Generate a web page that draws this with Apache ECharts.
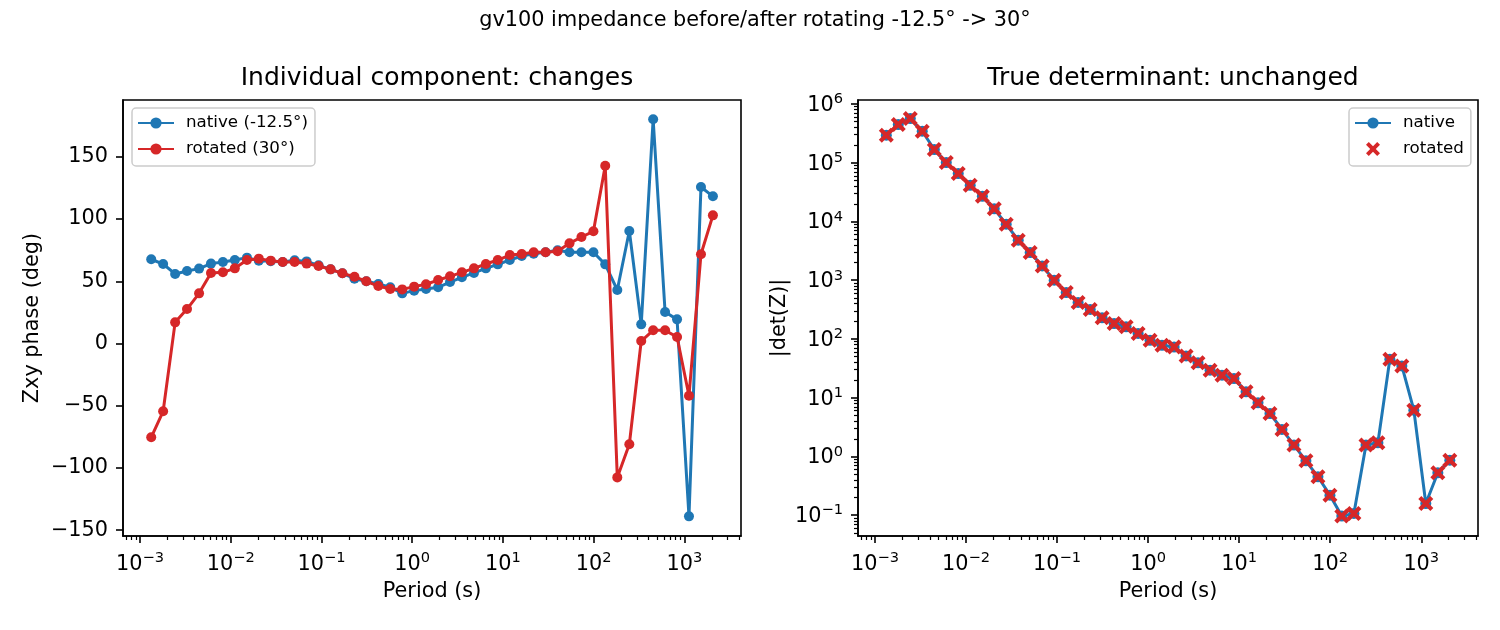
<!DOCTYPE html>
<html>
<head>
<meta charset="utf-8">
<script src="https://cdn.jsdelivr.net/npm/echarts@6/dist/echarts.min.js"></script>
<style>
  html, body { margin: 0; padding: 0; background: #fff; }
  #chart { width: 1500px; height: 630px; }
</style>
</head>
<body>
<div id="chart"></div>
<script>
// periods (s)
const periods = [
  0.00133, 0.00180, 0.00244, 0.00330, 0.00448, 0.00606, 0.00820, 0.0111,
  0.0151, 0.0204, 0.0276, 0.0374, 0.0506, 0.0686, 0.0929, 0.126,
  0.170, 0.231, 0.312, 0.423, 0.573, 0.776, 1.05, 1.42,
  1.93, 2.61, 3.53, 4.79, 6.48, 8.77, 11.9, 16.1,
  21.8, 29.5, 40.0, 54.1, 73.3, 99.3, 134, 182,
  247, 334, 452, 612, 829, 1122, 1521, 2059
];

// Zxy phase (deg)
const phaseNative = [
  67.7, 63.9, 55.9, 58.3, 60.2, 64.2, 65.5, 67.1,
  69.0, 66.6, 66.1, 65.5, 66.9, 66.0, 62.8, 59.6,
  56.4, 52.1, 50.0, 47.8, 45.2, 40.3, 42.5, 43.8,
  45.2, 49.4, 53.2, 56.7, 60.4, 63.6, 67.1, 70.3,
  72.2, 73.3, 74.9, 73.3, 73.3, 73.3, 63.6, 43.0,
  90.4, 15.4, 180.2, 25.3, 19.4, -138.9, 125.8, 118.3
];
const phaseRotated = [
  -75.4, -54.5, 17.0, 27.7, 40.3, 56.7, 57.2, 60.4,
  67.1, 68.2, 66.6, 65.5, 65.5, 64.2, 62.3, 59.6,
  56.4, 53.7, 50.0, 46.2, 43.8, 43.5, 45.7, 47.6,
  51.0, 54.0, 57.2, 60.4, 63.9, 67.1, 71.1, 71.9,
  73.3, 73.3, 74.1, 80.5, 85.6, 90.2, 142.9, -107.6,
  -81.0, 2.0, 10.6, 10.6, 5.2, -42.0, 71.7, 103.0
];

// |det(Z)|, identical before and after rotation
const detNative = [
  2.94e5, 4.47e5, 5.65e5, 3.44e5, 1.68e5, 1.01e5, 6.55e4, 4.14e4,
  2.69e4, 1.64e4, 8980, 4800, 2960, 1750, 1000, 618,
  418, 318, 229, 183, 161, 124, 95, 78,
  73, 51.5, 39.2, 29.4, 24.2, 21.2, 12.6, 8.17,
  5.38, 2.88, 1.56, 0.843, 0.45, 0.219, 0.0964, 0.107,
  1.56, 1.71, 45.3, 34.8, 6.14, 0.158, 0.526, 0.865
];
const detRotated = detNative.slice();

// tick labels
const periodTicks = [1e-3, 1e-2, 1e-1, 1, 10, 100, 1000];
const phaseTicks = [-150, -100, -50, 0, 50, 100, 150];
const detTicks = [0.1, 1, 10, 100, 1e3, 1e4, 1e5, 1e6];

const FONT = 'DejaVu Sans';
const BLUE = '#1f77b4';
const RED = '#d62728';

const xMin = 6.5e-4, xMax = 4200;
const phMin = -154.7, phMax = 195.7;
const detMin = 0.0442, detMax = 1.17e6;

// matplotlib-like minor ticks (2..9 x 10^k) inside a range
function minorTicks(lo, hi) {
  const out = [];
  for (let k = -6; k <= 7; k++) {
    for (let m = 2; m <= 9; m++) {
      const v = m * Math.pow(10, k);
      if (v >= lo && v <= hi) out.push(v);
    }
  }
  return out;
}

function powLabel(v) {
  const e = Math.round(Math.log10(v));
  return '{b|10}{s|' + (e < 0 ? '\u2212' + (-e) : e) + '}';
}
const powRich = {
  b: { fontSize: 20.8, fontFamily: FONT, color: '#000', lineHeight: 24, verticalAlign: 'bottom' },
  s: { fontSize: 14.6, fontFamily: FONT, color: '#000', lineHeight: 12, verticalAlign: 'top' }
};

const axisLineStyle = { show: true, onZero: false, lineStyle: { color: '#000', width: 1.6 } };
const majorTick = (vals) => ({ show: true, length: 7, customValues: vals, lineStyle: { color: '#000', width: 1.6 } });
const minorAxisTick = (vals) => ({ show: true, length: 4, customValues: vals, lineStyle: { color: '#000', width: 1.2 } });

function logXAxis(grid) {
  return {
    type: 'log', logBase: 10, gridIndex: grid, min: xMin, max: xMax, position: 'bottom',
    axisLine: axisLineStyle,
    axisTick: majorTick(periodTicks),
    axisLabel: { customValues: periodTicks, formatter: powLabel, rich: powRich, margin: 15 },
    splitLine: { show: false },
    name: 'Period (s)', nameLocation: 'middle', nameGap: 45,
    nameTextStyle: { fontSize: 20.8, fontFamily: FONT, color: '#000' }
  };
}
function minorXAxis(grid) {
  return {
    type: 'log', logBase: 10, gridIndex: grid, min: xMin, max: xMax, position: 'bottom',
    axisLine: { show: false, onZero: false },
    axisTick: minorAxisTick(minorTicks(xMin, xMax)),
    axisLabel: { show: false }, splitLine: { show: false }
  };
}

const gridBase = { show: true, borderColor: '#000', borderWidth: 1.6, backgroundColor: 'transparent', containLabel: false, outerBoundsMode: 'none' };

const legendBase = {
  orient: 'vertical', top: 108,
  backgroundColor: 'rgba(255,255,255,0.8)', borderColor: '#cccccc', borderWidth: 1.5, borderRadius: 4,
  padding: [6, 7, 8, 5], itemWidth: 36, itemHeight: 14, itemGap: 8,
  textStyle: { fontSize: 16.7, fontFamily: FONT, color: '#000', lineHeight: 18, padding: [0, 0, 0, 7] },
  selectedMode: false
};

const xPath = 'path://M0,2L2,0L5,3L8,0L10,2L7,5L10,8L8,10L5,7L2,10L0,8L3,5Z';

const chart = echarts.init(document.getElementById('chart'), null, { renderer: 'canvas' });
chart.setOption({
  animation: false,
  backgroundColor: '#fff',
  textStyle: { fontFamily: FONT },
  title: [
    { text: 'gv100 impedance before/after rotating -12.5\u00b0 -> 30\u00b0', left: 750, top: 5, textAlign: 'center',
      textStyle: { fontSize: 20.8, fontWeight: 'normal', fontFamily: FONT, color: '#000' } },
    { text: 'Individual component: changes', left: 432, top: 61, textAlign: 'center',
      textStyle: { fontSize: 25, fontWeight: 'normal', fontFamily: FONT, color: '#000' } },
    { text: 'True determinant: unchanged', left: 1168, top: 61, textAlign: 'center',
      textStyle: { fontSize: 25, fontWeight: 'normal', fontFamily: FONT, color: '#000' } }
  ],
  legend: [
    Object.assign({}, legendBase, { left: 132, data: ['native (-12.5\u00b0)', 'rotated (30\u00b0)'] }),
    Object.assign({}, legendBase, { left: 1349, data: ['native', { name: 'rotated', icon: xPath }] })
  ],
  grid: [
    Object.assign({}, gridBase, { left: 123, top: 100, width: 618, height: 436 }),
    Object.assign({}, gridBase, { left: 858, top: 100, width: 620, height: 436 })
  ],
  xAxis: [logXAxis(0), minorXAxis(0), logXAxis(1), minorXAxis(1)],
  yAxis: [
    {
      type: 'value', gridIndex: 0, min: phMin, max: phMax, position: 'left',
      axisLine: axisLineStyle,
      axisTick: majorTick(phaseTicks),
      axisLabel: { customValues: phaseTicks, margin: 15, fontSize: 20.8, fontFamily: FONT, color: '#000',
        formatter: (v) => (v < 0 ? '\u2212' + (-v) : String(v)) },
      splitLine: { show: false },
      name: 'Zxy phase (deg)', nameLocation: 'middle', nameGap: 80,
      nameTextStyle: { fontSize: 20.8, fontFamily: FONT, color: '#000' }
    },
    {
      type: 'log', logBase: 10, gridIndex: 1, min: detMin, max: detMax, position: 'left',
      axisLine: axisLineStyle,
      axisTick: majorTick(detTicks),
      axisLabel: { customValues: detTicks, formatter: powLabel, rich: powRich, margin: 15 },
      splitLine: { show: false },
      name: '|det(Z)|', nameLocation: 'middle', nameGap: 68,
      nameTextStyle: { fontSize: 20.8, fontFamily: FONT, color: '#000' }
    },
    {
      type: 'log', logBase: 10, gridIndex: 1, min: detMin, max: detMax, position: 'left',
      axisLine: { show: false, onZero: false },
      axisTick: minorAxisTick(minorTicks(detMin, detMax)),
      axisLabel: { show: false }, splitLine: { show: false }
    }
  ],
  series: [
    {
      name: 'native (-12.5\u00b0)', type: 'line', xAxisIndex: 0, yAxisIndex: 0,
      data: periods.map((p, i) => [p, phaseNative[i]]),
      symbol: 'circle', symbolSize: 10, showAllSymbol: true,
      lineStyle: { color: BLUE, width: 3 }, itemStyle: { color: BLUE },
      emphasis: { disabled: true }, z: 2
    },
    {
      name: 'rotated (30\u00b0)', type: 'line', xAxisIndex: 0, yAxisIndex: 0,
      data: periods.map((p, i) => [p, phaseRotated[i]]),
      symbol: 'circle', symbolSize: 10, showAllSymbol: true,
      lineStyle: { color: RED, width: 3 }, itemStyle: { color: RED },
      emphasis: { disabled: true }, z: 3
    },
    {
      name: 'native', type: 'line', xAxisIndex: 2, yAxisIndex: 1,
      data: periods.map((p, i) => [p, detNative[i]]),
      symbol: 'circle', symbolSize: 11, showAllSymbol: true,
      lineStyle: { color: BLUE, width: 3 }, itemStyle: { color: BLUE },
      emphasis: { disabled: true }, z: 2
    },
    {
      name: 'rotated', type: 'scatter', xAxisIndex: 2, yAxisIndex: 1,
      data: periods.map((p, i) => [p, detRotated[i]]),
      symbol: xPath, symbolSize: 15,
      itemStyle: { color: RED, opacity: 1 },
      emphasis: { disabled: true }, z: 3
    }
  ]
});
</script>
</body>
</html>
